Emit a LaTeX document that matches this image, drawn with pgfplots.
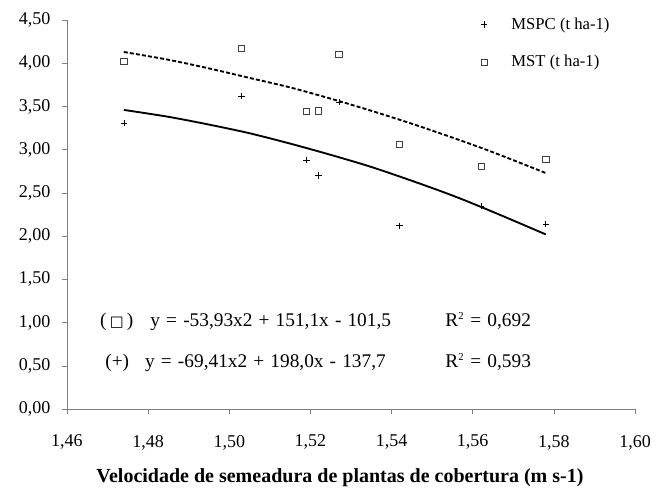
\documentclass[border=0pt]{standalone}
\usepackage{fontspec}
\setmainfont{Liberation Serif}
\newfontfamily\dejavu{DejaVu Sans}
\usepackage{pgfplots}
\pgfplotsset{compat=1.18}
\pgfplotsset{mkleg/.style={legend image code/.code={\path[draw=none,fill=none] (0cm,-2pt) rectangle (1.0cm,2pt); \draw[##1] plot coordinates {(0.35cm,0cm)};}}}
\newcommand{\eqf}{\fontsize{14.5}{17}\selectfont\spaceskip=4.6pt plus 1pt\relax}
\begin{document}
\begin{tikzpicture}
\begin{axis}[
  at={(0,0)}, anchor=south west, scale only axis,
  width=426pt, height=291.75pt,
  xmin=1.46, xmax=1.60, ymin=0, ymax=4.5,
  xtick={1.46,1.48,1.50,1.52,1.54,1.56,1.58,1.60},
  ytick={0,0.5,1,1.5,2,2.5,3,3.5,4,4.5},
  axis x line*=bottom, axis y line*=left,
  axis line style={black!50, -},
  tick style={black!50, thin},
  tick align=outside, major tick length=4pt,
  ticklabel style={font=\fontsize{13.5}{15}\selectfont},
  xticklabel style={yshift=-12pt},
  yticklabel style={xshift=-5pt},
  scaled ticks=false,
  /pgf/number format/.cd, use comma, fixed, fixed zerofill, precision=2, assume math mode=true,
  /pgfplots/.cd,
  xlabel={\bfseries Velocidade de semeadura de plantas de cobertura (m s-1)},
  xlabel style={at={(axis description cs:0.4806,0)}, anchor=center, yshift=-51.75pt, font=\fontsize{15}{17}\selectfont},
  legend style={draw=none, fill=none, at={(axis cs:1.5588,4.593)}, anchor=north west,
    font=\fontsize{12.5}{15}\selectfont, row sep=14pt, inner sep=2pt},
  legend cell align=left,
  clip=false,
]
\addplot[only marks, mark=+, mark size=2.4pt, black, thin, mkleg]
  coordinates {(1.474,3.31) (1.503,3.62) (1.519,2.88) (1.522,2.70) (1.527,3.55) (1.542,2.12) (1.562,2.35) (1.578,2.14)};
\addlegendentry{MSPC (t ha-1)}
\addplot[only marks, mark=square, mark size=2.3pt, black!75, thin, mkleg]
  coordinates {(1.474,4.02) (1.503,4.17) (1.519,3.44) (1.522,3.45) (1.527,4.10) (1.542,3.06) (1.562,2.81) (1.578,2.89)};
\addlegendentry{MST (t ha-1)}
\addplot[forget plot, black, line width=1.4pt, dash pattern=on 3pt off 1.6pt, smooth]
  coordinates {(1.474,4.13) (1.485,4.04) (1.495,3.94) (1.505,3.83) (1.515,3.72) (1.525,3.59) (1.535,3.45) (1.545,3.30) (1.555,3.14) (1.565,2.97) (1.578,2.73)};
\addplot[forget plot, black, line width=1.4pt, smooth]
  coordinates {(1.474,3.46) (1.485,3.38) (1.495,3.29) (1.505,3.19) (1.515,3.07) (1.525,2.94) (1.535,2.80) (1.545,2.64) (1.555,2.47) (1.565,2.28) (1.578,2.02)};
\node[anchor=base west, font=\eqf, inner sep=0pt] at (axis cs:1.4681,0.95) {(\,{\dejavu\fontsize{11}{13}\selectfont □}\,)};
\node[anchor=base west, font=\eqf, inner sep=0pt] at (axis cs:1.4805,0.95) {y = -53,93x2 + 151,1x - 101,5};
\node[anchor=base west, font=\eqf, inner sep=0pt] at (axis cs:1.5532,0.95) {R\textsuperscript{\fontsize{8}{9}\selectfont 2} = 0,692};
\node[anchor=base west, font=\eqf, inner sep=0pt] at (axis cs:1.4694,0.475) {(+)};
\node[anchor=base west, font=\eqf, inner sep=0pt] at (axis cs:1.4792,0.475) {y = -69,41x2 + 198,0x - 137,7};
\node[anchor=base west, font=\eqf, inner sep=0pt] at (axis cs:1.5532,0.475) {R\textsuperscript{\fontsize{8}{9}\selectfont 2} = 0,593};
\end{axis}
\pgfresetboundingbox
\path (-50.25pt,-60.75pt) rectangle (441.75pt,306.75pt);
\end{tikzpicture}
\end{document}
